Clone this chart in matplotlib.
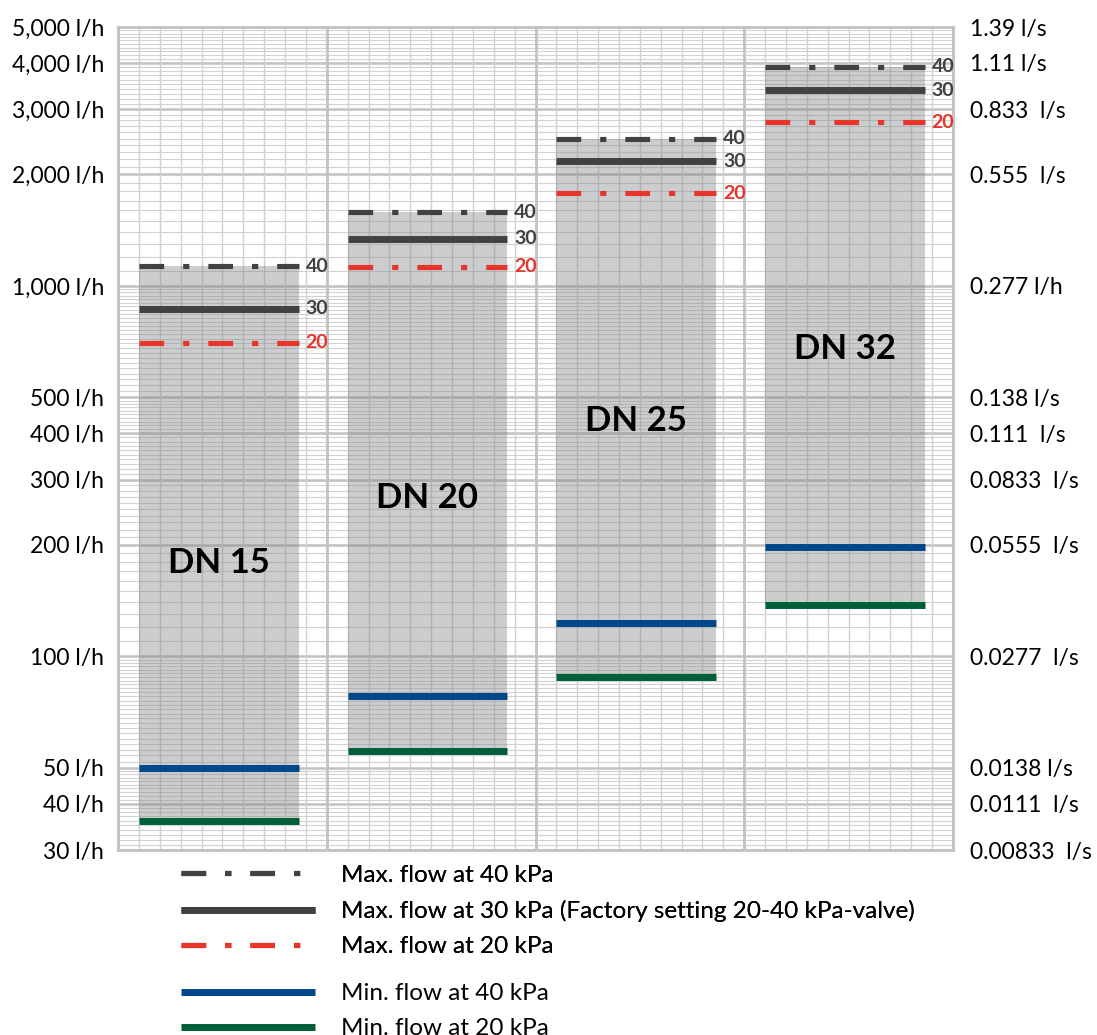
import numpy as np
import matplotlib
matplotlib.use("Agg")
import matplotlib.pyplot as plt
from matplotlib.lines import Line2D
from matplotlib.patches import Rectangle

plt.rcParams["font.family"] = ["Lato", "DejaVu Sans"]

# --- data (l/h) ---
valves = ["DN 15", "DN 20", "DN 25", "DN 32"]
max_40 = [1130, 1580, 2500, 3900]
max_30 = [867, 1340, 2170, 3380]
max_20 = [702, 1125, 1780, 2770]
min_40 = [50, 78, 123, 197]
min_20 = [36, 55.5, 88, 138]
label_y = [179, 267, 433, 676]

left_ticks = [30, 40, 50, 100, 200, 300, 400, 500, 1000, 2000, 3000, 4000, 5000]
left_labels = ["30 l/h", "40 l/h", "50 l/h", "100 l/h", "200 l/h", "300 l/h", "400 l/h",
               "500 l/h", "1,000 l/h", "2,000 l/h", "3,000 l/h", "4,000 l/h", "5,000 l/h"]
right_labels = ["0.00833  l/s", "0.0111  l/s", "0.0138 l/s", "0.0277  l/s", "0.0555  l/s",
                "0.0833  l/s", "0.111  l/s", "0.138 l/s", "0.277 l/h", "0.555  l/s",
                "0.833  l/s", "1.11 l/s", "1.39 l/s"]

legend_labels = ["Max. flow at 40 kPa",
                 "Max. flow at 30 kPa (Factory setting 20-40 kPa-valve)",
                 "Max. flow at 20 kPa",
                 "Min. flow at 40 kPa",
                 "Min. flow at 20 kPa"]

# --- styles ---
C_DARK = "#414042"
C_RED = "#e8352b"
C_BLUE = "#00468b"
C_GREEN = "#005f38"
LW_SOLID = 5.0
LW_DASH = 3.7
DASHDOT = (0, (4.8, 3.7, 1.2, 3.7))
COL_W = 10
BOX_X0, BOX_X1 = 1.0, 8.65

fig = plt.figure(figsize=(10.97, 10.35), dpi=100, facecolor="white")
ax = fig.add_axes([0.1076, 0.1787, 0.7611, 0.7952])
ax.set_yscale("log")
ax.set_ylim(30, 5000)
ax.set_xlim(0, COL_W * len(valves))

# graph-paper grid
minor_y = []
for dec in [10, 100, 1000]:
    minor_y += list(np.arange(1, 5, 0.1) * dec) + list(np.arange(5, 10, 0.2) * dec)
for v in minor_y:
    if 30 <= v <= 5000:
        ax.axhline(v, color="#d2d2d2", lw=0.8, zorder=0)
for v in left_ticks:
    ax.axhline(v, color="#c2c2c2", lw=1.8, zorder=0)
for x in range(0, COL_W * len(valves) + 1):
    major = x % COL_W == 0
    ax.axvline(x, color="#c2c2c2" if major else "#d0d0d0",
               lw=2.0 if major else 1.0, zorder=0)

for s in ax.spines.values():
    s.set_color("#c2c2c2")
    s.set_linewidth(2)

for i, name in enumerate(valves):
    x0 = i * COL_W + BOX_X0
    x1 = i * COL_W + BOX_X1
    ax.add_patch(Rectangle((x0, min_20[i]), x1 - x0, max_40[i] - min_20[i],
                           facecolor="#808285", alpha=0.4, lw=0, zorder=1))
    ax.plot([x0, x1], [max_40[i]] * 2, color=C_DARK, lw=LW_DASH, ls=DASHDOT,
            dash_capstyle="butt", zorder=3)
    ax.plot([x0, x1], [max_30[i]] * 2, color=C_DARK, lw=LW_SOLID, solid_capstyle="butt", zorder=3)
    ax.plot([x0, x1], [max_20[i]] * 2, color=C_RED, lw=LW_DASH, ls=DASHDOT,
            dash_capstyle="butt", zorder=3)
    ax.plot([x0, x1], [min_40[i]] * 2, color=C_BLUE, lw=LW_SOLID, solid_capstyle="butt", zorder=3)
    ax.plot([x0, x1], [min_20[i]] * 2, color=C_GREEN, lw=LW_SOLID, solid_capstyle="butt", zorder=3)
    for val, txt, c in [(max_40[i], "40", C_DARK), (max_30[i], "30", C_DARK), (max_20[i], "20", C_RED)]:
        ax.annotate(txt, xy=(x1, val), xytext=(5, 0), textcoords="offset points",
                    ha="left", va="center", fontsize=14, fontweight="bold", color=c, zorder=4)
    ax.text((x0 + x1) / 2, label_y[i], name, ha="center", va="center",
            fontsize=25, fontweight="bold", color="black", zorder=4)

ax.set_xticks([])
ax.set_yticks(left_ticks)
ax.set_yticklabels(left_labels)
ax.yaxis.set_minor_locator(matplotlib.ticker.NullLocator())
ax.tick_params(axis="y", length=0, pad=10, labelsize=16.5)

ax2 = ax.twinx()
ax2.set_yscale("log")
ax2.set_ylim(30, 5000)
ax2.set_yticks(left_ticks)
ax2.set_yticklabels(right_labels)
ax2.yaxis.set_minor_locator(matplotlib.ticker.NullLocator())
ax2.tick_params(axis="y", length=0, pad=12, labelsize=16.5)
for s in ax2.spines.values():
    s.set_visible(False)

# legend
h_max = [Line2D([], [], color=C_DARK, lw=LW_DASH, ls=DASHDOT, dash_capstyle="butt"),
         Line2D([], [], color=C_DARK, lw=LW_SOLID, solid_capstyle="butt"),
         Line2D([], [], color=C_RED, lw=LW_DASH, ls=DASHDOT, dash_capstyle="butt")]
h_min = [Line2D([], [], color=C_BLUE, lw=LW_SOLID, solid_capstyle="butt"),
         Line2D([], [], color=C_GREEN, lw=LW_SOLID, solid_capstyle="butt")]
leg_kw = dict(loc="upper left", frameon=False, fontsize=17.5, handlelength=5.5,
              handletextpad=1.1, labelspacing=0.58, borderpad=0, borderaxespad=0)
leg1 = fig.legend(h_max, legend_labels[:3], bbox_to_anchor=(0.165, 0.1643), **leg_kw)
fig.add_artist(leg1)
fig.legend(h_min, legend_labels[3:], bbox_to_anchor=(0.165, 0.0502), **leg_kw)

fig.savefig("out.png", dpi=100, facecolor="white")
